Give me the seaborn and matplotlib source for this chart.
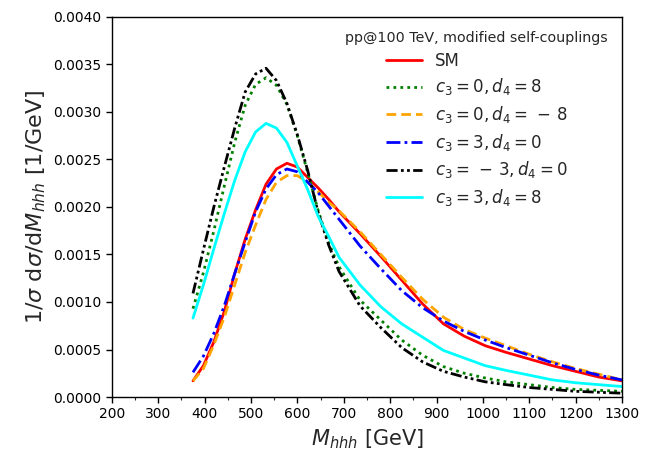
import numpy as np
import pandas as pd
import matplotlib
matplotlib.use("Agg")
import matplotlib.pyplot as plt
import seaborn as sns
from matplotlib.ticker import MultipleLocator

# ---- data ----
m_hhh = [375, 397.5, 420, 442.5, 465, 487.5, 510, 532.5, 555, 577.5, 600, 622.5,
         645, 667.5, 690, 735, 780, 825, 870, 915, 960, 1005, 1050, 1100, 1150,
         1200, 1250, 1300]

sm = [0.00017, 0.00033, 0.00058, 0.00090, 0.00130, 0.00166, 0.00197, 0.00224,
      0.00240, 0.00246, 0.00242, 0.00231, 0.00220, 0.00208, 0.00195, 0.00172,
      0.00148, 0.00123, 0.00098, 0.00077, 0.00064, 0.00054, 0.00047, 0.00040,
      0.00033, 0.00027, 0.00021, 0.00017]

c0_d8 = [0.00093, 0.00131, 0.00175, 0.00222, 0.00268, 0.00307, 0.00329, 0.00336,
         0.00328, 0.00308, 0.00275, 0.00236, 0.00196, 0.00162, 0.00137, 0.00102,
         0.00081, 0.00060, 0.00044, 0.00032, 0.00025, 0.00020, 0.00016, 0.00013,
         0.00010, 0.00008, 0.00007, 0.00006]

c0_dm8 = [0.00017, 0.00030, 0.00055, 0.00084, 0.00118, 0.00152, 0.00181, 0.00208,
          0.00226, 0.00233, 0.00233, 0.00226, 0.00216, 0.00205, 0.00196, 0.00174,
          0.00150, 0.00126, 0.00103, 0.00084, 0.00071, 0.00062, 0.00054, 0.00045,
          0.00037, 0.00030, 0.00024, 0.00018]

c3_d0 = [0.00026, 0.00043, 0.00067, 0.00096, 0.00130, 0.00163, 0.00195, 0.00219,
         0.00234, 0.00240, 0.00237, 0.00226, 0.00215, 0.00201, 0.00187, 0.00159,
         0.00135, 0.00112, 0.00094, 0.00080, 0.00069, 0.00060, 0.00052, 0.00044,
         0.00036, 0.00029, 0.00023, 0.00018]

cm3_d0 = [0.00109, 0.00155, 0.00200, 0.00242, 0.00283, 0.00321, 0.00340, 0.00346,
          0.00333, 0.00309, 0.00276, 0.00238, 0.00194, 0.00160, 0.00132, 0.00096,
          0.00073, 0.00052, 0.00037, 0.00027, 0.00021, 0.00016, 0.00013, 0.00010,
          0.00008, 0.00006, 0.00005, 0.00004]

c3_d8 = [0.00083, 0.00118, 0.00156, 0.00193, 0.00228, 0.00258, 0.00279, 0.00288,
         0.00283, 0.00268, 0.00243, 0.00218, 0.00190, 0.00169, 0.00147, 0.00118,
         0.00095, 0.00077, 0.00063, 0.00049, 0.00041, 0.00033, 0.00028, 0.00023,
         0.00018, 0.00015, 0.00013, 0.00011]

labels = ["SM", r"$c_3 = 0, d_4 =\,-\,8$" if False else r"$c_3 = 0, d_4 = 8$",
          r"$c_3 = 0, d_4 =\,-\,8$",
          r"$c_3 = 3, d_4 = 0$", r"$c_3 =\,-\,3, d_4 = 0$", r"$c_3 = 3, d_4 = 8$"]
series = [sm, c0_d8, c0_dm8, c3_d0, cm3_d0, c3_d8]
colors = ["red", "green", "orange", "blue", "black", "cyan"]
styles = ["-", (0, (1, 1.5)), (0, (3.5, 1.8)), (0, (5, 1.5, 1, 1.5)),
          (0, (4, 1.2, 1, 1.2, 1, 1.2)), "-"]

legend_title = "pp@100 TeV, modified self-couplings"

sns.set_style("ticks")
plt.rcParams["font.family"] = ["DejaVu Sans"]
plt.rcParams["mathtext.fontset"] = "dejavusans"

fig = plt.figure(figsize=(6.5, 4.53), dpi=100)
ax = fig.add_axes([0.172, 0.1236, 0.785, 0.839])

for lab, vals, col, ls in zip(labels, series, colors, styles):
    df = pd.DataFrame({"x": m_hhh, "y": vals})
    sns.lineplot(data=df, x="x", y="y", ax=ax, color=col, linestyle=ls,
                 linewidth=2, label=lab)

ax.set_xlim(200, 1300)
ax.set_ylim(0, 0.004)
ax.xaxis.set_major_locator(MultipleLocator(100))
ax.xaxis.set_minor_locator(MultipleLocator(50))
ax.yaxis.set_major_locator(MultipleLocator(0.0005))
ax.yaxis.set_major_formatter(matplotlib.ticker.FormatStrFormatter("%.4f"))
ax.tick_params(axis="both", which="major", labelsize=10, length=4, width=1,
               direction="out", colors="black")
ax.tick_params(axis="x", which="minor", length=2.5, width=0.8, direction="out")
for s in ax.spines.values():
    s.set_visible(True)
    s.set_color("black")
    s.set_linewidth(1)

ax.set_xlabel(r"$M_{hhh}$ [GeV]", fontsize=15)
ax.set_ylabel(r"$1/\sigma\ \mathrm{d}\sigma/\mathrm{d}M_{hhh}$ [1/GeV]", fontsize=16)

leg = ax.legend(title=legend_title, loc="upper right", frameon=False,
                fontsize=12, title_fontsize=10.3, handlelength=2.2,
                handletextpad=0.75, labelspacing=0.4, borderaxespad=0.45)

fig.savefig("out.png", dpi=100)
